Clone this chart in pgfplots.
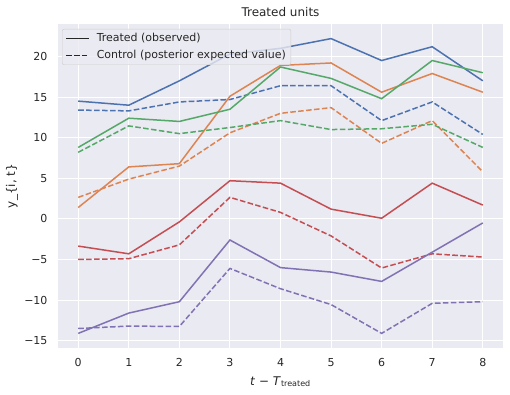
\documentclass[border=0pt]{standalone}
\usepackage{fontspec}
\setmainfont{DejaVu Sans}
\usepackage{pgfplots}
\pgfplotsset{compat=1.18}
\usetikzlibrary{calc}
\definecolor{sbblue}{HTML}{4C72B0}
\definecolor{sborange}{HTML}{DD8452}
\definecolor{sbgreen}{HTML}{55A868}
\definecolor{sbred}{HTML}{C44E52}
\definecolor{sbpurple}{HTML}{8172B3}
\definecolor{sbbg}{HTML}{EAEAF2}
\definecolor{sbtext}{HTML}{262626}
\definecolor{sbedge}{HTML}{CCCCCC}
\begin{document}
\begin{tikzpicture}
\begin{axis}[
  name=ax,
  scale only axis,
  width=445pt, height=324pt,
  xmin=-0.4, xmax=8.4,
  ymin=-15.9, ymax=24.0,
  xtick={0,1,2,3,4,5,6,7,8},
  ytick={-15,-10,-5,0,5,10,15,20},
  yticklabels={−15,−10,−5,0,5,10,15,20},
  /pgf/number format/assume math mode=true,
  tick label style={font=\fontsize{11}{13}\selectfont, text=sbtext},
  xticklabel style={yshift=-7.3pt},
  yticklabel style={xshift=-7pt},
  axis background/.style={fill=sbbg},
  grid=major,
  major grid style={white, line width=1pt},
  axis line style={draw=none},
  tick style={draw=none},
  every axis title shift=0pt,
  title={Treated units},
  title style={at={(axis description cs:0.5,1.037)}, anchor=center, font=\fontsize{12}{14}\selectfont, text=sbtext},
  xlabel={\textit{t} − \textit{T}\textsubscript{treated}},
  xlabel style={at={(axis description cs:0.5,-0.104)}, anchor=center, font=\fontsize{12}{14}\selectfont, text=sbtext},
  ylabel={y\_\{i, t\}},
  ylabel style={at={(axis description cs:-0.1034,0.5)}, anchor=center, font=\fontsize{12}{14}\selectfont, text=sbtext},
  legend style={at={(axis description cs:0.009,0.985)}, anchor=north west,
    fill=sbbg, fill opacity=0.8, text opacity=1, draw=sbedge, rounded corners=2pt,
    font=\fontsize{11}{13}\selectfont, text=sbtext, inner xsep=3pt, inner ysep=2.5pt, row sep=3pt},
  legend cell align=left,
  legend image code/.code={\draw[#1, line width=1.6pt, draw opacity=1] (0pt,0pt) -- (23pt,0pt); \path (28pt,0pt);},
  every axis plot/.append style={line width=1.5pt},
]
\addlegendimage{color=sbtext}
\addlegendentry{Treated (observed)}
\addlegendimage{color=sbtext, dash pattern=on 5.55pt off 2.4pt}
\addlegendentry{Control (posterior expected value)}

% Blue
\addplot[sbblue, forget plot] coordinates {(0,14.5) (1,14.0) (2,17.0) (3,20.3) (4,21.0) (5,22.2) (6,19.5) (7,21.2) (8,17.0)};
\addplot[sbblue, forget plot, dash pattern=on 5.55pt off 2.4pt] coordinates {(0,13.4) (1,13.3) (2,14.4) (3,14.7) (4,16.4) (5,16.4) (6,12.1) (7,14.4) (8,10.4)};
% Orange
\addplot[sborange, forget plot] coordinates {(0,1.4) (1,6.4) (2,6.8) (3,15.1) (4,18.9) (5,19.2) (6,15.6) (7,17.9) (8,15.6)};
\addplot[sborange, forget plot, dash pattern=on 5.55pt off 2.4pt] coordinates {(0,2.65) (1,4.9) (2,6.5) (3,10.6) (4,13.0) (5,13.7) (6,9.3) (7,12.1) (8,5.8)};
% Green
\addplot[sbgreen, forget plot] coordinates {(0,8.8) (1,12.4) (2,12.0) (3,13.5) (4,18.7) (5,17.3) (6,14.8) (7,19.5) (8,18.0)};
\addplot[sbgreen, forget plot, dash pattern=on 5.55pt off 2.4pt] coordinates {(0,8.2) (1,11.45) (2,10.5) (3,11.25) (4,12.1) (5,11.0) (6,11.1) (7,11.65) (8,8.8)};
% Red
\addplot[sbred, forget plot] coordinates {(0,-3.35) (1,-4.3) (2,-0.37) (3,4.7) (4,4.4) (5,1.2) (6,0.08) (7,4.4) (8,1.7)};
\addplot[sbred, forget plot, dash pattern=on 5.55pt off 2.4pt] coordinates {(0,-5.0) (1,-4.9) (2,-3.2) (3,2.65) (4,0.8) (5,-2.1) (6,-6.05) (7,-4.3) (8,-4.7)};
% Purple
\addplot[sbpurple, forget plot] coordinates {(0,-14.1) (1,-11.6) (2,-10.2) (3,-2.6) (4,-6.0) (5,-6.55) (6,-7.7) (7,-4.1) (8,-0.5)};
\addplot[sbpurple, forget plot, dash pattern=on 5.55pt off 2.4pt] coordinates {(0,-13.5) (1,-13.2) (2,-13.25) (3,-6.1) (4,-8.6) (5,-10.55) (6,-14.1) (7,-10.4) (8,-10.2)};
\end{axis}
\pgfresetboundingbox
\path[use as bounding box] ($(ax.south west)+(-58pt,-47pt)$) rectangle ($(ax.north east)+(7pt,24pt)$);
\end{tikzpicture}
\end{document}
